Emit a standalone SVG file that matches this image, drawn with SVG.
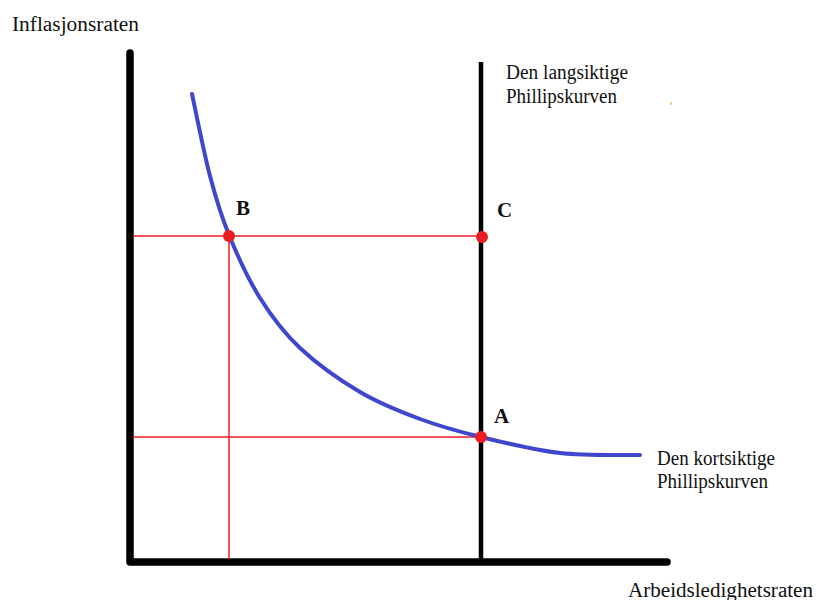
<svg xmlns="http://www.w3.org/2000/svg" width="820" height="600" viewBox="0 0 820 600">
<style>
.txt{font-family:"Liberation Serif","Times New Roman",serif;fill:#111;font-size:20px}
.lbl{font-family:"Liberation Serif","Times New Roman",serif;fill:#111;font-size:21px;font-weight:bold}
.axis{fill:none;stroke:#000;stroke-width:7.5;stroke-linecap:round;stroke-linejoin:round}
.guide{stroke:#ed1c24;stroke-width:1.5;fill:none}
.pt{fill:#ed1c24}
</style>
<rect width="820" height="600" fill="#fff"/>
<g id="connectors">
<path class="axis" d="M130,53 L130,562 L667,562"/>
<line x1="481" y1="62" x2="481" y2="560" stroke="#000" stroke-width="4.5"/>
<path class="guide" d="M133,236 H482 M133,437 H482 M229,236 V559"/>
<path id="srpc" d="M192,94 C195,107.7 203.8,152.5 210,176 C216.2,199.5 220.7,214.7 229,235 C237.3,255.3 248.2,279.2 260,298 C271.8,316.8 283.3,332.3 300,348 C316.7,363.7 340,380.2 360,392 C380,403.8 399.8,411.5 420,419 C440.2,426.5 457.7,431.3 481,437 C504.3,442.7 533.5,450 560,453 C586.5,456 626.7,454.7 640,455" fill="none" stroke="#3f48cc" stroke-width="4" stroke-linecap="round"/>
</g>
<g id="yaxis-label"><text class="txt" x="12" y="31" font-size="21" textLength="127" lengthAdjust="spacingAndGlyphs">Inflasjonsraten</text></g>
<g id="xaxis-label"><text class="txt" x="628" y="597" font-size="21" textLength="185" lengthAdjust="spacingAndGlyphs">Arbeidsledighetsraten</text></g>
<g id="lrpc-label">
<text class="txt" x="506" y="79" textLength="122" lengthAdjust="spacingAndGlyphs">Den langsiktige</text>
<text class="txt" x="506" y="103" textLength="111" lengthAdjust="spacingAndGlyphs">Phillipskurven</text>
</g>
<g id="srpc-label">
<text class="txt" x="657" y="465" textLength="118" lengthAdjust="spacingAndGlyphs">Den kortsiktige</text>
<text class="txt" x="657" y="488" textLength="111" lengthAdjust="spacingAndGlyphs">Phillipskurven</text>
</g>
<g id="point-A"><circle class="pt" cx="481" cy="437" r="6"/><text class="lbl" x="494" y="423">A</text></g>
<g id="point-B"><circle class="pt" cx="229" cy="236" r="6"/><text class="lbl" x="236" y="215">B</text></g>
<g id="point-C"><circle class="pt" cx="482" cy="237" r="6"/><text class="lbl" x="497" y="217">C</text></g>
<rect x="670" y="102" width="2" height="3" fill="#f7c98f"/>
</svg>
